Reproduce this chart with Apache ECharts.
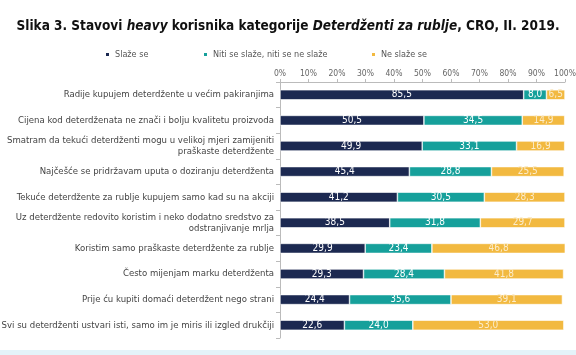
<!DOCTYPE html>
<html><head><meta charset="utf-8">
<script src="https://cdn.jsdelivr.net/npm/echarts@6/dist/echarts.min.js"></script>
<style>html,body{margin:0;padding:0;background:#fff}#c{width:576px;height:355px}#strip{position:absolute;left:0;top:350px;width:576px;height:5px;background:#e4f3f9}</style>
</head><body><div id="c"></div><div id="strip"></div>
<script>
const categories = [
  "Radije kupujem deterdžente u većim pakiranjima",
  "Cijena kod deterdženata ne znači i bolju kvalitetu proizvoda",
  "Smatram da tekući deterdženti mogu u velikoj mjeri zamijeniti\npraškaste deterdžente",
  "Najčešće se pridržavam uputa o doziranju deterdženta",
  "Tekuće deterdžente za rublje kupujem samo kad su na akciji",
  "Uz deterdžente redovito koristim i neko dodatno sredstvo za\nodstranjivanje mrlja",
  "Koristim samo praškaste deterdžente za rublje",
  "Često mijenjam marku deterdženta",
  "Prije ću kupiti domaći deterdžent nego strani",
  "Svi su deterdženti ustvari isti, samo im je miris ili izgled drukčiji"
];
const seriesNames = ["Slaže se", "Niti se slaže, niti se ne slaže", "Ne slaže se"];
const agree =    [85.5, 50.5, 49.9, 45.4, 41.2, 38.5, 29.9, 29.3, 24.4, 22.6];
const neutral =  [8.0, 34.5, 33.1, 28.8, 30.5, 31.8, 23.4, 28.4, 35.6, 24.0];
const disagree = [6.5, 14.9, 16.9, 25.5, 28.3, 29.7, 46.8, 41.8, 39.1, 53.0];
const colors = ["#1c2951", "#16a09b", "#f2b940"];

const catFont = "'DejaVu Sans Condensed',Roboto,sans-serif";
const chart = echarts.init(document.getElementById('c'), null, {renderer:'canvas'});
const mk = (name, data, i) => ({
  name, type:'bar', stack:'t', data, barWidth:10,
  itemStyle:{color:colors[i], borderColor:'#ffffff', borderWidth:0.6},
  label:{show:true, position:'inside', color:i===2?'#fbeccc':'#ffffff', fontSize:10,
    fontFamily:catFont,
    formatter:p=>p.value.toFixed(1).replace('.',',')},
  emphasis:{disabled:true}
});
const legendBase = {top:45, itemWidth:5, itemHeight:5, icon:'rect', itemGap:4,
  textStyle:{color:'#555', fontSize:9, fontFamily:catFont}};
chart.setOption({
  animation:false,
  title:{text:'{b|Slika 3. Stavovi }{bi|heavy}{b| korisnika kategorije }{bi|Deterdženti za rublje}{b|, CRO, II. 2019.}',
    left:'center', top:14,
    textStyle:{rich:{
      b:{fontSize:13.5, fontWeight:'bold', color:'#111', fontFamily:catFont},
      bi:{fontSize:13.5, fontWeight:'bold', fontStyle:'italic', color:'#111', fontFamily:catFont}
    }}},
  legend:[
    Object.assign({left:99, data:[seriesNames[0]]}, legendBase),
    Object.assign({left:197, data:[seriesNames[1]]}, legendBase),
    Object.assign({left:365, data:[seriesNames[2]]}, legendBase)
  ],
  grid:{left:280, right:11, top:82, bottom:17, outerBoundsMode:'none', containLabel:false},
  xAxis:{type:'value', position:'top', min:0, max:100, interval:10,
    axisLine:{show:true, lineStyle:{color:'#bbb'}},
    axisTick:{show:true, length:3, lineStyle:{color:'#bbb'}},
    splitLine:{show:false},
    axisLabel:{formatter:'{value}%', color:'#666', fontSize:8.5, fontFamily:catFont, margin:4}},
  yAxis:{type:'category', inverse:true, data:categories,
    axisLine:{show:true, lineStyle:{color:'#bbb'}},
    axisTick:{show:true, length:4, lineStyle:{color:'#bbb'}},
    axisLabel:{color:'#444', fontSize:9.5, fontFamily:catFont, margin:6, align:'right', lineHeight:11}},
  series:[mk(seriesNames[0], agree, 0), mk(seriesNames[1], neutral, 1), mk(seriesNames[2], disagree, 2)]
});
</script></body></html>
